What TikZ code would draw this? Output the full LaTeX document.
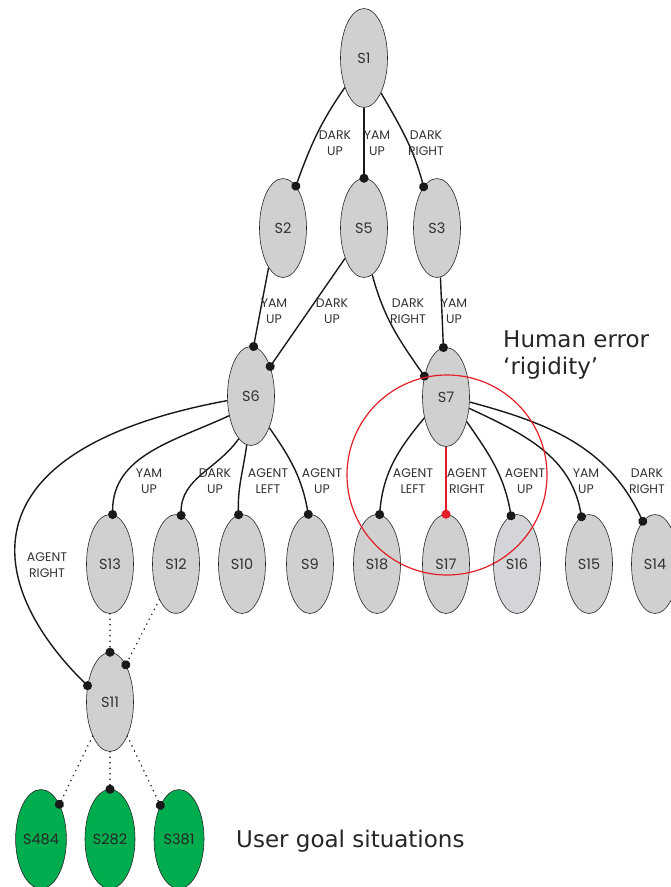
\documentclass[tikz,border=0pt]{standalone}
\usepackage{fontspec}
\usepackage{tikz}
\usetikzlibrary{
  arrows.meta,
  shapes.geometric
}
\newfontfamily\statefont{Poppins}
\newfontfamily\notefont{DejaVu Sans}
\definecolor{stategray}{RGB}{208,208,208}
\definecolor{statepale}{RGB}{211,213,216}
\definecolor{goalgreen}{RGB}{0,173,78}
\definecolor{errred}{RGB}{228,30,38}
\definecolor{inkgray}{RGB}{50,50,50}

\begin{document}
\begin{tikzpicture}[x=1pt, y=1pt,
  state/.style={ellipse, draw=black!85, line width=0.6pt, fill=stategray,
    minimum width=47pt, minimum height=99pt, inner sep=0pt,
    text=inkgray, font=\statefont\fontsize{14.5}{16}\selectfont},
  goal/.style={state, fill=goalgreen, minimum width=50pt, text=black!85},
  move/.style={line width=1.4pt, draw=black!90, -{Circle[length=9pt]}, shorten >=-4.5pt},
  hint/.style={line width=1.7pt, draw=black!90, dash pattern=on 0pt off 5.5pt, line cap=round,
    -{Circle[length=9pt]}, shorten >=-4.5pt},
  act/.style={align=center, text=inkgray, inner sep=0pt,
    font=\statefont\fontsize{12.5}{16}\selectfont},
  note/.style={align=left, text=black!85, inner sep=0pt,
    font=\notefont\fontsize{23}{27}\selectfont}]
  \useasboundingbox (0,0) rectangle (670,-887);

  % States
  \node[state] (s1) at (364,-58) {S1};
  \node[state] (s2) at (283,-228) {S2};
  \node[state] (s5) at (364,-228) {S5};
  \node[state] (s3) at (437,-228) {S3};
  \node[state] (s6) at (251,-396) {S6};
  \node[state] (s7) at (446,-397) {S7};
  \node[state] (s13) at (110,-564) {S13};
  \node[state] (s12) at (176,-564) {S12};
  \node[state] (s10) at (242,-564) {S10};
  \node[state] (s9) at (310,-564) {S9};
  \node[state] (s18) at (377,-564) {S18};
  \node[state] (s17) at (446,-564) {S17};
  \node[state, fill=statepale] (s16) at (517,-564) {S16};
  \node[state] (s15) at (589,-564) {S15};
  \node[state] (s14) at (655,-564) {S14};
  \node[state] (s11) at (110,-702) {S11};

  % Goal states
  \node[goal] (s484) at (41,-839) {S484};
  \node[goal] (s282) at (110,-839) {S282};
  \node[goal] (s381) at (179,-839) {S381};

  % Moves from S1
  \draw[move] (s1.237) to[out=235, in=70] (s2.73);
  \draw[move] (s1.south) -- (s5.north);
  \draw[move] (s1.296) to[out=300, in=105] (s3.108);
  \node[act] (a1) at (335,-143) {DARK\\UP};
  \node[act] (a2) at (377,-143) {YAM\\UP};
  \node[act] (a3) at (426,-143) {DARK\\RIGHT};

  % Moves into S6 and S7
  \draw[move] (s2.250) -- (s6.87);
  \draw[move] (s5.238) -- (s6.57);
  \draw[move] (s5.280) to[out=285, in=125] (s7.136);
  \draw[move] (s3.274) -- (s7.93);
  \node[act] (a4) at (274,-311) {YAM\\UP};
  \node[act] (a5) at (332,-311) {DARK\\UP};
  \node[act] (a6) at (408,-311) {DARK\\RIGHT};
  \node[act] (a7) at (454,-311) {YAM\\UP};

  % Moves from S6
  \draw[move] (s6.222) to[out=205, in=90] (s13.87);
  \draw[move] (s6.254) to[out=235, in=90] (s12.84);
  \draw[move] (s6.265) to[out=262, in=92] (s10.94);
  \draw[move] (s6.300) to[out=305, in=100] (s9.92);
  \draw[move] (s6.191) .. controls (-40,-450) and (-15,-585) .. (s11.144);
  \node[act] (a8) at (149,-481) {YAM\\UP};
  \node[act] (a9) at (215,-481) {DARK\\UP};
  \node[act] (a10) at (268,-481) {AGENT\\LEFT};
  \node[act] (a11) at (322,-481) {AGENT\\UP};
  \node[act] (a12) at (47,-565) {AGENT\\RIGHT};

  % Moves from S7
  \draw[move] (s7.224) to[out=230, in=85] (s18.87);
  \draw[move, draw=errred, -{Circle[length=9pt, fill=errred]}] (s7.south) -- (s17.north);
  \draw[move] (s7.310) to[out=305, in=100] (s16.97);
  \draw[move] (s7.334) to[out=335, in=100] (s15.99);
  \draw[move] (s7.348) to[out=345, in=115] (s14.106);
  \node[act] (a13) at (413,-481) {AGENT\\LEFT};
  \node[act] (a14) at (467,-481) {AGENT\\RIGHT};
  \node[act] (a15) at (525,-481) {AGENT\\UP};
  \node[act] (a16) at (586,-481) {YAM\\UP};
  \node[act] (a17) at (647,-481) {DARK\\RIGHT};

  % Further steps towards the goals
  \draw[hint] (s13.south) -- (s11.north);
  \draw[hint] (s12.245) -- (s11.67);
  \draw[hint] (s11.243) -- (s484.62);
  \draw[hint] (s11.south) -- (s282.north);
  \draw[hint] (s11.297) -- (s381.119);

  % Rigidity ring and notes
  \draw[errred, line width=1.2pt] (447,-475) circle (100);
  \node[note, anchor=north west] (rigid) at (503,-331) {Human error\\‘rigidity’};
  \node[note, anchor=base west] (goals) at (236,-847) {User goal situations};
\end{tikzpicture}
\end{document}
